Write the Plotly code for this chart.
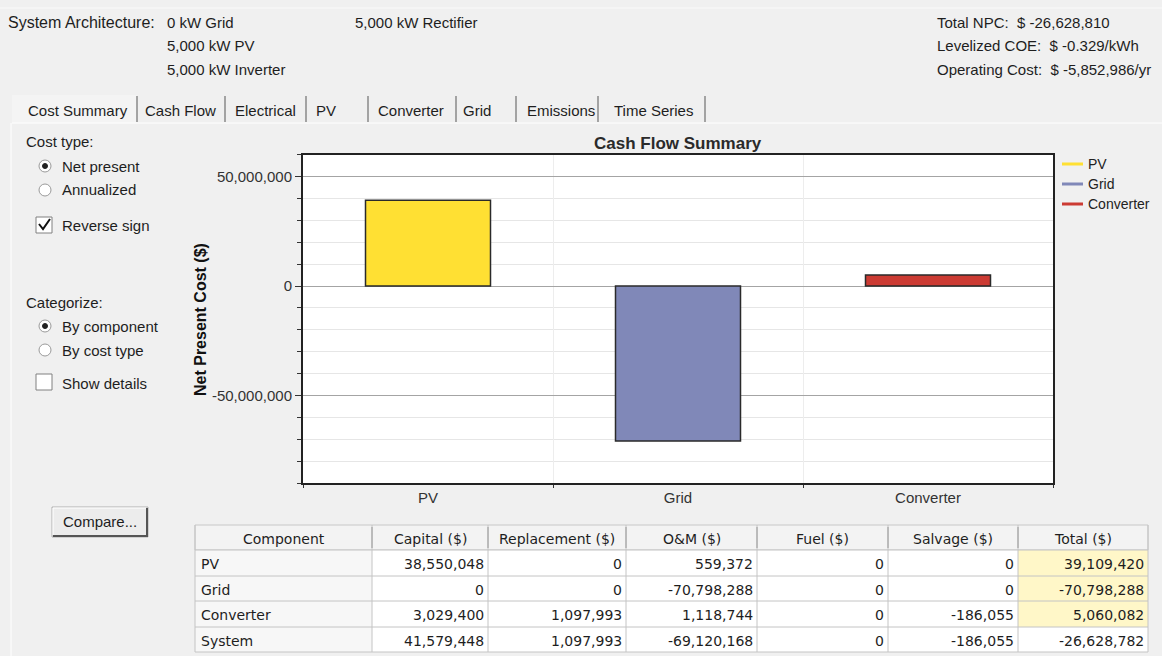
import plotly.graph_objects as go

# ---------------- data ----------------
components = ["PV", "Grid", "Converter", "System"]
capital = [38550048, 0, 3029400, 41579448]
replacement = [0, 0, 1097993, 1097993]
om = [559372, -70798288, 1118744, -69120168]
fuel = [0, 0, 0, 0]
salvage = [0, 0, -186055, -186055]
total = [39109420, -70798288, 5060082, -26628782]
table_headers = ["Component", "Capital ($)", "Replacement ($)", "O&M ($)", "Fuel ($)", "Salvage ($)", "Total ($)"]

chart_categories = ["PV", "Grid", "Converter"]
chart_values = total[:3]
bar_colors = ["#FFE033", "#8088B8", "#CC3B33"]

y_tick_values = [50000000, 0, -50000000]
y_tick_labels = ["50,000,000", "0", "-50,000,000"]

arch_label = "System Architecture:"
arch_col1 = ["0 kW Grid", "5,000 kW PV", "5,000 kW Inverter"]
arch_col2 = ["5,000 kW Rectifier"]
summary_lines = ["Total NPC:  $ -26,628,810", "Levelized COE:  $ -0.329/kWh", "Operating Cost:  $ -5,852,986/yr"]
tab_labels = ["Cost Summary", "Cash Flow", "Electrical", "PV", "Converter", "Grid", "Emissions", "Time Series"]
cost_type_label = "Cost type:"
cost_type_options = ["Net present", "Annualized"]
reverse_label = "Reverse sign"
categorize_label = "Categorize:"
categorize_options = ["By component", "By cost type"]
details_label = "Show details"
compare_label = "Compare..."
chart_title = "Cash Flow Summary"
y_title = "Net Present Cost ($)"

# ---------------- layout helpers ----------------
W, H = 1162, 656
FONT = "Liberation Sans, Arial, sans-serif"
TFONT = "DejaVu Sans, Verdana, sans-serif"
TXT = "#1e1e1e"


def px(x):
    return x / W


def py(y):
    return 1 - y / H


annotations = []
shapes = []


def text(x, y, s, size=15, anchor="left", color=TXT, bold=False, angle=0, family=FONT):
    if anchor == "left":
        x -= 2
    elif anchor == "right":
        x += 2
    annotations.append(dict(
        x=px(x), y=py(y), xref="paper", yref="paper", showarrow=False,
        xanchor=anchor, yanchor="middle", textangle=angle,
        text=("<b>%s</b>" % s) if bold else s,
        font=dict(family=family, size=size, color=color)))


def line(x0, y0, x1, y1, color, width=1):
    shapes.append(dict(type="line", xref="paper", yref="paper",
                       x0=px(x0), y0=py(y0), x1=px(x1), y1=py(y1),
                       line=dict(color=color, width=width)))


def rect(x0, y0, x1, y1, fill, color, width=1):
    shapes.append(dict(type="rect", xref="paper", yref="paper",
                       x0=px(x0), y0=py(y1), x1=px(x1), y1=py(y0),
                       fillcolor=fill, line=dict(color=color, width=width), layer="below"))


def circle(cx, cy, r, fill, color, width=1):
    shapes.append(dict(type="circle", xref="paper", yref="paper",
                       x0=px(cx - r), y0=py(cy + r), x1=px(cx + r), y1=py(cy - r),
                       fillcolor=fill, line=dict(color=color, width=width)))


# ---------------- header ----------------
line(0, 8, W, 8, "#FAFAFA", 1)
text(8, 22, arch_label, size=16)
for i, s in enumerate(arch_col1):
    text(167, 22 + 24 * i, s)
for i, s in enumerate(arch_col2):
    text(355, 22 + 24 * i, s)
for i, s in enumerate(summary_lines):
    text(937, 22 + 24 * i, s)

# ---------------- tabs ----------------
tab_x = [28, 145, 235, 316, 378, 463, 527, 614]
tab_sep = [137, 225, 306, 368, 456, 516, 598, 705]
rect(12, 95, 137, 123, "#F4F4F4", "rgba(0,0,0,0)", 0)
for x, s in zip(tab_x, tab_labels):
    text(x, 110, s)
for x in tab_sep:
    line(x, 96, x, 122, "#8A8A8A", 1.5)
line(12, 123, W, 123, "#FFFFFF", 1)
line(11, 123, 11, H, "#FFFFFF", 1)

# ---------------- left control panel ----------------
text(26, 142, cost_type_label)
for i, s in enumerate(cost_type_options):
    cy = 166 + 24 * i
    circle(45, cy, 6, "#FFFFFF", "#9A9A9A")
    if i == 0:
        circle(45, cy, 2.5, "#222222", "#222222")
    text(62, cy, s)
rect(36, 217, 52, 233, "#FFFFFF", "#808080")
shapes.append(dict(type="path", xref="paper", yref="paper",
                   path="M %f %f L %f %f L %f %f" % (px(39), py(224), px(43), py(229), px(50), py(219)),
                   line=dict(color="#111111", width=2)))
text(62, 225, reverse_label)

text(26, 302, categorize_label)
for i, s in enumerate(categorize_options):
    cy = 326 + 24 * i
    circle(45, cy, 6, "#FFFFFF", "#9A9A9A")
    if i == 0:
        circle(45, cy, 2.5, "#222222", "#222222")
    text(62, cy, s)
rect(36, 374, 52, 390, "#FFFFFF", "#808080")
text(62, 383, details_label)

# Compare button
rect(52, 507, 148, 537, "#ECECEC", "#B0B0B0")
line(53, 536, 148, 536, "#555555", 2)
line(147, 508, 147, 537, "#555555", 2)
line(53, 508, 146, 508, "#FFFFFF", 1)
line(53, 508, 53, 535, "#FFFFFF", 1)
text(100, 521, compare_label, anchor="center")

# ---------------- chart ----------------
text(678, 144, chart_title, size=17, anchor="center", color="#2a2a2a", bold=True)
text(200, 320, y_title, size=16, anchor="center", color="#111111", bold=True, angle=-90)

# manual legend (line symbols)
for i, (name, col) in enumerate(zip(chart_categories, bar_colors)):
    ly = 164 + 20 * i
    line(1062, ly, 1083, ly, col, 3)
    text(1088, ly, name, size=14, color="#222222")

fig = go.Figure()
for cat, val, col in zip(chart_categories, chart_values, bar_colors):
    fig.add_trace(go.Bar(x=[cat], y=[val], width=0.5, name=cat,
                         marker=dict(color=col, line=dict(color="#2a2a2a", width=1.5)),
                         showlegend=False, hoverinfo="x+y"))

# ---------------- table (cells drawn as shapes + text) ----------------
def fmt(vals):
    return ["{:,}".format(v) for v in vals]


columns = [components, fmt(capital), fmt(replacement), fmt(om), fmt(fuel), fmt(salvage), fmt(total)]
col_edges = [195, 372, 488, 626, 757, 888, 1018, 1148]
row_edges = [525, 550, 576, 601, 627, 652]
n_rows = len(components)

# header
rect(col_edges[0], row_edges[0], col_edges[-1], row_edges[1], "#F3F3F3", "#C8C8C8")
for c, hdr in enumerate(table_headers):
    x0, x1 = col_edges[c], col_edges[c + 1]
    text((x0 + x1) / 2, (row_edges[0] + row_edges[1]) / 2 + 1, hdr, size=14, anchor="center", family=TFONT)
# body cells
for c, col_vals in enumerate(columns):
    x0, x1 = col_edges[c], col_edges[c + 1]
    for r in range(n_rows):
        y0, y1 = row_edges[r + 1], row_edges[r + 2]
        if c == 0:
            fill = "#F7F7F7"
        elif c == len(columns) - 1 and r < n_rows - 1:
            fill = "#FFF7C8"
        else:
            fill = "#FFFFFF"
        rect(x0, y0, x1, y1, fill, "rgba(0,0,0,0)", 0)
        ym = (y0 + y1) / 2 + 1
        if c == 0:
            text(x0 + 6, ym, col_vals[r], size=14, anchor="left", family=TFONT)
        else:
            text(x1 - 4, ym, col_vals[r], size=14, anchor="right", family=TFONT)
# grid lines
for y in row_edges[1:]:
    line(col_edges[0], y, col_edges[-1], y, "#C4C4C4", 1)
for x in col_edges:
    line(x, row_edges[0], x, row_edges[-1], "#C4C4C4", 1)
for x in col_edges[1:-1]:
    line(x, row_edges[0] + 2, x, row_edges[1] - 2, "#9A9A9A", 1)

fig.update_layout(
    width=W, height=H,
    margin=dict(l=0, r=0, t=0, b=0),
    paper_bgcolor="#F0F0F0", plot_bgcolor="#FFFFFF",
    barmode="overlay", showlegend=False,
    font=dict(family=FONT, size=15, color="#333333"),
    xaxis=dict(domain=[px(303), px(1053)], range=[-0.5, 2.5], type="category",
               tickson="boundaries", ticks="outside", ticklen=3, tickcolor="#333333",
               showgrid=True, gridcolor="#EDEDED", gridwidth=1,
               showline=True, linecolor="#222222", linewidth=2, mirror=True,
               tickfont=dict(family=FONT, size=15, color="#333333"), fixedrange=True),
    yaxis=dict(domain=[py(483.1), py(154.6)], range=[-90000000, 60000000],
               tickmode="array", tickvals=y_tick_values, ticktext=y_tick_labels,
               ticks="outside", ticklen=6, tickcolor="#333333",
               showgrid=True, gridcolor="#A4A4A4", gridwidth=1, zeroline=False,
               minor=dict(tickmode="linear", tick0=0, dtick=10000000, ticks="outside", ticklen=4,
                          tickcolor="#333333", showgrid=True, gridcolor="#E6E6E6", gridwidth=1),
               showline=True, linecolor="#222222", linewidth=2, mirror=True,
               tickfont=dict(family=FONT, size=15, color="#333333"), fixedrange=True),
    annotations=annotations,
    shapes=shapes,
)

fig.write_html("out.html", config={"displayModeBar": False},
               post_script="document.body.style.margin='0';document.body.style.overflow='hidden';")
